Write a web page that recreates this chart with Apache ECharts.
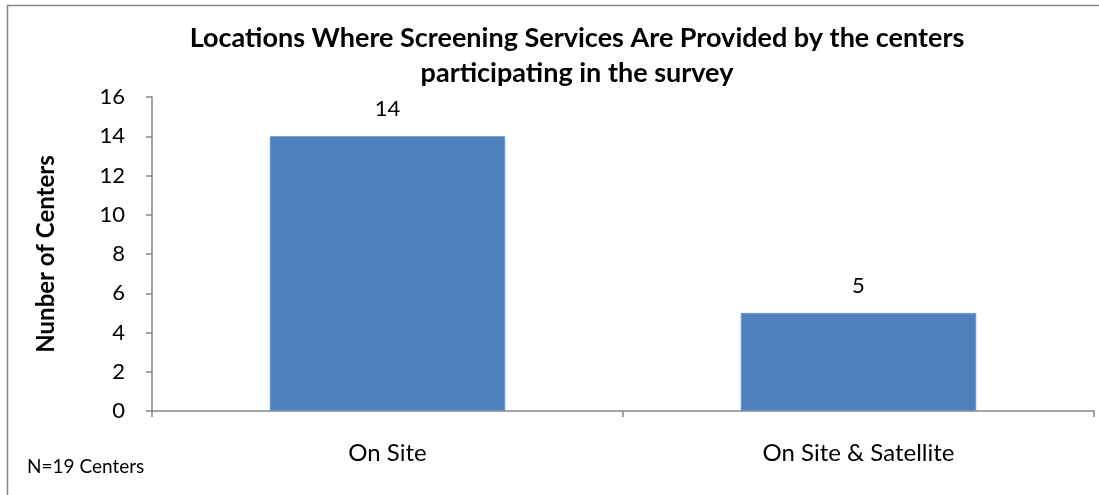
<!DOCTYPE html>
<html><head><meta charset="utf-8">
<script src="https://cdn.jsdelivr.net/npm/echarts@6/dist/echarts.min.js"></script>
<style>html,body{margin:0;padding:0;background:#fff}#c{width:1099px;height:495px}</style>
</head><body><div id="c"></div>
<script>
const categories = ["On Site", "On Site & Satellite"];
const values = [14, 5];
const yTicks = [0, 2, 4, 6, 8, 10, 12, 14, 16];
const titleText = "Locations Where Screening Services Are Provided by the centers\nparticipating in the survey";
const yAxisName = "Nunber of Centers";
const note = "N=19 Centers";

const FONT = "Lato";
const chart = echarts.init(document.getElementById('c'), null, {renderer: 'canvas'});
chart.setOption({
  animation: false,
  backgroundColor: '#fff',
  title: {
    text: titleText, left: 572, top: 16, textAlign: 'center',
    textStyle: {fontFamily: FONT, fontWeight: 'bold', fontSize: 27, color: '#000', lineHeight: 35}
  },
  graphic: [
    {type: 'rect', shape: {x: 7.5, y: 5.5, width: 1200, height: 600}, style: {fill: 'none', stroke: '#868686', lineWidth: 1.5}, silent: true},
    {type: 'text', left: 27, top: 457, style: {text: note, fontFamily: FONT, fontSize: 19, fill: '#000'}}
  ],
  grid: {left: 152, right: 5, top: 97, bottom: 84},
  xAxis: {
    type: 'category', data: categories,
    axisLine: {lineStyle: {color: '#868686', width: 1.5}},
    axisTick: {show: true, length: 6, lineStyle: {color: '#868686', width: 1.5}},
    axisLabel: {fontFamily: FONT, fontSize: 24, color: '#000', margin: 30}
  },
  yAxis: {
    type: 'value', min: yTicks[0], max: yTicks[yTicks.length - 1], interval: 2,
    name: yAxisName, nameLocation: 'middle', nameGap: 94, nameRotate: 90,
    nameTextStyle: {fontFamily: FONT, fontWeight: 'bold', fontSize: 24, color: '#000'},
    axisLine: {show: true, lineStyle: {color: '#868686', width: 1.5}},
    axisTick: {show: true, length: 6, lineStyle: {color: '#868686', width: 1.5}},
    splitLine: {show: false},
    axisLabel: {fontFamily: FONT, fontSize: 22, color: '#000', margin: 27}
  },
  series: [{
    type: 'bar', data: values, barCategoryGap: '50%',
    itemStyle: {color: '#4f81bd', borderColor: '#6a94c8', borderWidth: 1},
    label: {show: true, position: 'top', distance: 16, fontFamily: FONT, fontSize: 22, color: '#000'}
  }]
});
</script></body></html>
